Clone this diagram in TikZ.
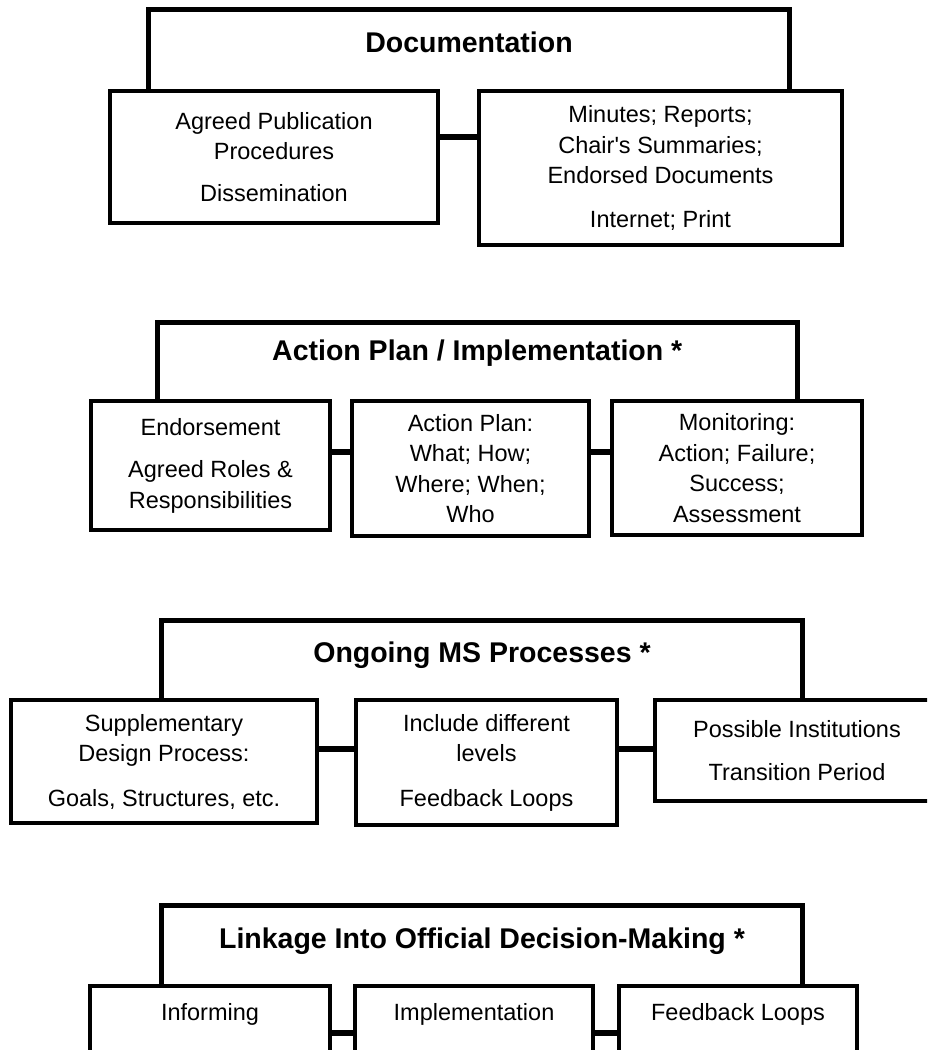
\documentclass[tikz,border=0pt]{standalone}
\usepackage{fontspec}
\setmainfont{Liberation Sans}
\begin{document}
\begin{tikzpicture}[x=1pt,y=-1pt,
  box/.style={draw, line width=4pt, fill=white, inner sep=0pt, align=center,
    font=\fontsize{23.5}{30.5}\selectfont},
  frame/.style={inner sep=0pt},
  hdline/.style={line width=5pt, line join=miter},
  hdtitle/.style={anchor=base, font=\bfseries\fontsize{28.5}{34}\selectfont},
  lbl/.style={anchor=base, font=\fontsize{23.5}{30.5}\selectfont},
  link/.style={line width=6.5pt}]
\useasboundingbox (0,0) rectangle (927,1050);
\clip (0,0) rectangle (927,1050);

% ---------- Documentation ----------
\node[frame, minimum width=641, minimum height=81.5] (h1) at (469,50.25) {};
\draw[hdline] (h1.south west) |- (h1.north east) -- (h1.south east);
\node[hdtitle] (t1) at (469,52) {Documentation};
\node[box, minimum width=328, minimum height=132] (d1a) at (274,157)
  {Agreed Publication\\Procedures\\[11pt]Dissemination};
\node[box, minimum width=363, minimum height=154] (d1b) at (660.5,168)
  {Minutes; Reports;\\Chair\textquotesingle s Summaries;\\Endorsed Documents\\[13pt]Internet; Print};
\coordinate (k1) at (0,137);
\draw[link] (d1a.east |- k1) -- (d1b.west |- k1);

% ---------- Action Plan / Implementation ----------
\node[frame, minimum width=639.5, minimum height=78.5] (h2) at (477.25,361.75) {};
\draw[hdline] (h2.south west) |- (h2.north east) -- (h2.south east);
\node[hdtitle] (t2) at (477.25,360) {Action Plan / Implementation *};
\node[box, minimum width=239, minimum height=129] (d2a) at (210.5,465.5)
  {Endorsement\\[12pt]Agreed Roles \&\\Responsibilities};
\node[box, minimum width=237, minimum height=135] (d2b) at (470.5,468.5)
  {Action Plan:\\What; How;\\Where; When;\\Who};
\node[box, minimum width=250, minimum height=134] (d2c) at (737,468)
  {Monitoring:\\Action; Failure;\\Success;\\Assessment};
\coordinate (k2) at (0,452);
\draw[link] (d2a.east |- k2) -- (d2b.west |- k2);
\draw[link] (d2b.east |- k2) -- (d2c.west |- k2);

% ---------- Ongoing MS Processes ----------
\node[frame, minimum width=641, minimum height=79.5] (h3) at (482,660.25) {};
\draw[hdline] (h3.south west) |- (h3.north east) -- (h3.south east);
\node[hdtitle] (t3) at (482,662) {Ongoing MS Processes *};
\node[box, minimum width=306, minimum height=123] (d3a) at (164,761.5)
  {Supplementary\\Design Process:\\[14pt]Goals, Structures, etc.};
\node[box, minimum width=261, minimum height=125] (d3b) at (486.5,762.5)
  {Include different\\levels\\[14pt]Feedback Loops};
\node[box, minimum width=284, minimum height=101] (d3c) at (797,750.5)
  {Possible Institutions\\[13pt]Transition Period};
\coordinate (k3) at (0,749);
\draw[link] (d3a.east |- k3) -- (d3b.west |- k3);
\draw[link] (d3b.east |- k3) -- (d3c.west |- k3);

% ---------- Linkage Into Official Decision-Making ----------
\node[frame, minimum width=641, minimum height=80.5] (h4) at (482,945.75) {};
\draw[hdline] (h4.south west) |- (h4.north east) -- (h4.south east);
\node[hdtitle] (t4) at (482,948) {Linkage Into Official Decision-Making *};
\node[box, minimum width=240, minimum height=114] (d4a) at (210,1043) {};
\node[box, minimum width=238, minimum height=114] (d4b) at (474,1043) {};
\node[box, minimum width=238, minimum height=114] (d4c) at (738,1043) {};
\node[lbl] (l4a) at (210,1020) {Informing};
\node[lbl] (l4b) at (474,1020) {Implementation};
\node[lbl] (l4c) at (738,1020) {Feedback Loops};
\coordinate (k4) at (0,1033);
\draw[link] (d4a.east |- k4) -- (d4b.west |- k4);
\draw[link] (d4b.east |- k4) -- (d4c.west |- k4);
\end{tikzpicture}
\end{document}
